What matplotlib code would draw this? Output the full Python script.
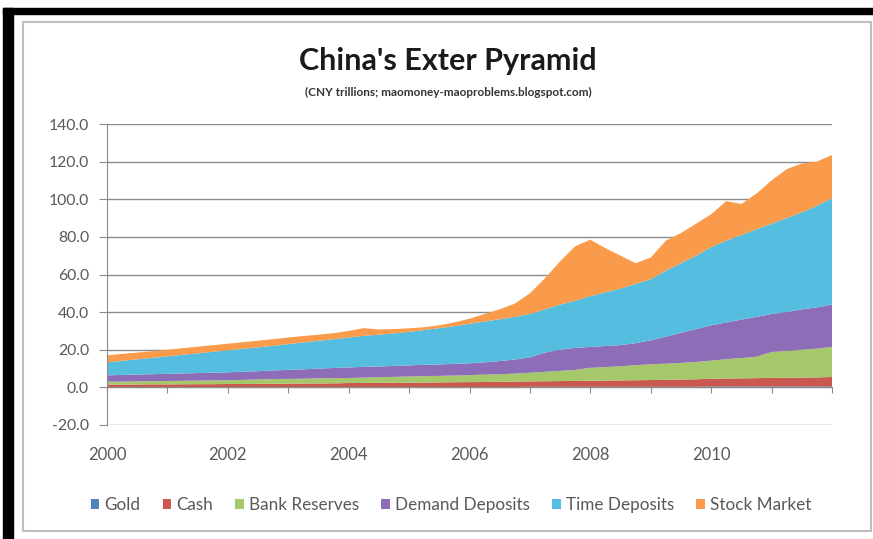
import matplotlib.pyplot as plt
from matplotlib.patches import Rectangle
import numpy as np

plt.rcParams['font.family'] = ['Lato', 'DejaVu Sans']

# quarterly observations, 2000Q1 .. 2012Q1 (CNY trillions)
dates = np.arange(2000, 2012.01, 0.25)

gold = [0.1] * 16 + [0.2] * 12 + [0.3] * 12 + [0.5] * 9
cash = [1.4, 1.4, 1.45, 1.5, 1.5, 1.55, 1.6, 1.6, 1.7, 1.7, 1.75, 1.8,
        1.9, 1.95, 2.0, 2.05, 2.1, 2.15, 2.2, 2.25, 2.3, 2.35, 2.45, 2.55,
        2.6, 2.65, 2.75, 2.85, 2.9, 2.95, 3.05, 3.15, 3.2, 3.3, 3.4, 3.5,
        3.6, 3.7, 3.85, 4.0, 4.1, 4.2, 4.3, 4.4, 4.6, 4.6, 4.7, 4.8, 5.0]
reserves = [1.5, 1.6, 1.65, 1.7, 1.8, 1.85, 1.9, 2.0, 2.0, 2.2, 2.35, 2.5,
            2.5, 2.55, 2.7, 2.75, 2.7, 2.85, 3.0, 3.15, 3.3, 3.45, 3.45, 3.55,
            3.7, 3.95, 4.05, 4.25, 4.6, 5.05, 5.45, 5.85, 6.9, 7.2, 7.5, 8.0,
            8.4, 8.6, 8.85, 9.2, 9.6, 10.3, 10.8, 11.4, 13.7, 14.3, 14.8, 15.3, 16.0]
demand = [3.4, 3.5, 3.6, 3.7, 3.8, 3.9, 4.0, 4.1, 4.2, 4.3, 4.4, 4.6,
          4.8, 5.0, 5.2, 5.4, 5.6, 5.7, 5.7, 5.8, 5.9, 6.0, 6.1, 6.2,
          6.3, 6.5, 7.0, 7.5, 8.2, 10.2, 11.2, 11.7, 11.1, 11.2, 11.3, 11.7,
          12.7, 14.4, 16.0, 17.5, 18.8, 19.5, 20.4, 21.2, 20.2, 20.6, 21.5, 21.9, 22.5]
time_dep = [6.9, 7.5, 8.1, 8.7, 9.3, 9.9, 10.5, 11.1, 11.7, 12.2, 12.7, 13.1,
            13.7, 14.3, 14.8, 15.3, 15.9, 16.5, 16.9, 17.3, 17.8, 18.5, 19.3, 20.0,
            21.0, 21.7, 22.2, 22.7, 23.0, 23.0, 24.0, 25.0, 27.0, 28.5, 30.0, 31.5,
            32.5, 35.0, 37.0, 39.0, 41.5, 43.5, 45.0, 46.5, 48.0, 50.0, 51.5, 54.0, 56.5]
stock = [3.7, 3.7, 3.6, 3.5, 3.5, 3.5, 3.5, 3.5, 3.5, 3.5, 3.5, 3.5,
         3.5, 3.4, 3.2, 3.2, 3.5, 4.1, 2.8, 2.3, 1.9, 1.5, 1.5, 2.0,
         2.7, 4.0, 5.3, 7.0, 11.0, 16.5, 23.0, 29.0, 30.0, 23.5, 17.5, 11.0,
         11.5, 16.0, 16.0, 17.0, 17.5, 21.0, 16.5, 19.0, 23.0, 26.0, 26.0, 23.5, 23.0]

labels = ['Gold', 'Cash', 'Bank Reserves', 'Demand Deposits', 'Time Deposits', 'Stock Market']
colors = ['#4F81BD', '#C9584F', '#A5C96A', '#8D6CB8', '#55BDE0', '#F99B4A']
label_years = [2000, 2002, 2004, 2006, 2008, 2010]

fig = plt.figure(figsize=(8.73, 5.39), dpi=100)
ax = fig.add_axes([107 / 873, 1 - 425 / 539, 725 / 873, 301 / 539])

ax.stackplot(dates, gold, cash, reserves, demand, time_dep, stock,
             colors=colors, labels=labels, linewidth=0)

ax.set_xlim(2000, 2012)
ax.set_ylim(-20, 140)
ax.set_yticks(np.arange(-20, 141, 20))
ax.set_yticklabels(['%.1f' % v for v in np.arange(-20, 141, 20)])
ax.yaxis.grid(True, color='#8C8C8C', lw=1)
ax.set_axisbelow(True)

for s in ['top', 'right']:
    ax.spines[s].set_visible(False)
ax.spines['left'].set_color('#8C8C8C')
ax.spines['bottom'].set_position(('data', 0))
ax.spines['bottom'].set_color('#8C8C8C')
ax.set_xticks(np.arange(2000, 2013, 1))
ax.tick_params(axis='x', length=4, color='#8C8C8C', labelbottom=False)
ax.tick_params(axis='y', length=6, color='#8C8C8C', pad=7, labelsize=11.3, labelcolor='#595959')

sec = ax.secondary_xaxis('bottom')
sec.set_xticks(label_years)
sec.set_xticklabels([str(y) for y in label_years])
sec.tick_params(length=0, pad=16, labelsize=12, labelcolor='#595959')
sec.spines['bottom'].set_visible(False)

fig.text(448 / 873, 1 - 61 / 539, "China's Exter Pyramid", ha='center', va='center',
         fontsize=22, fontweight='bold', color='#1A1A1A')
fig.text(448 / 873, 1 - 92 / 539, "(CNY trillions; maomoney-maoproblems.blogspot.com)",
         ha='center', va='center', fontsize=8.5, fontweight='bold', color='#333333')

fig.legend(loc='center', bbox_to_anchor=(451 / 873, 1 - 505 / 539), ncol=6, frameon=False,
           handlelength=0.5, handleheight=0.5, handletextpad=0.3, columnspacing=1.3,
           fontsize=12.3, labelcolor='#595959')

# chart frame and the dark band of the screenshot
fig.patches.append(Rectangle((23 / 873, 1 - 531 / 539), 848 / 873, 509 / 539,
                             transform=fig.transFigure, fill=False, edgecolor='#BFBFBF', lw=1.5))
fig.patches.append(Rectangle((3 / 873, 1 - 14 / 539), 870 / 873, 6 / 539,
                             transform=fig.transFigure, color='black'))
fig.patches.append(Rectangle((3 / 873, 0), 10 / 873, 1 - 8 / 539,
                             transform=fig.transFigure, color='black'))

fig.savefig('out.png', dpi=100)
